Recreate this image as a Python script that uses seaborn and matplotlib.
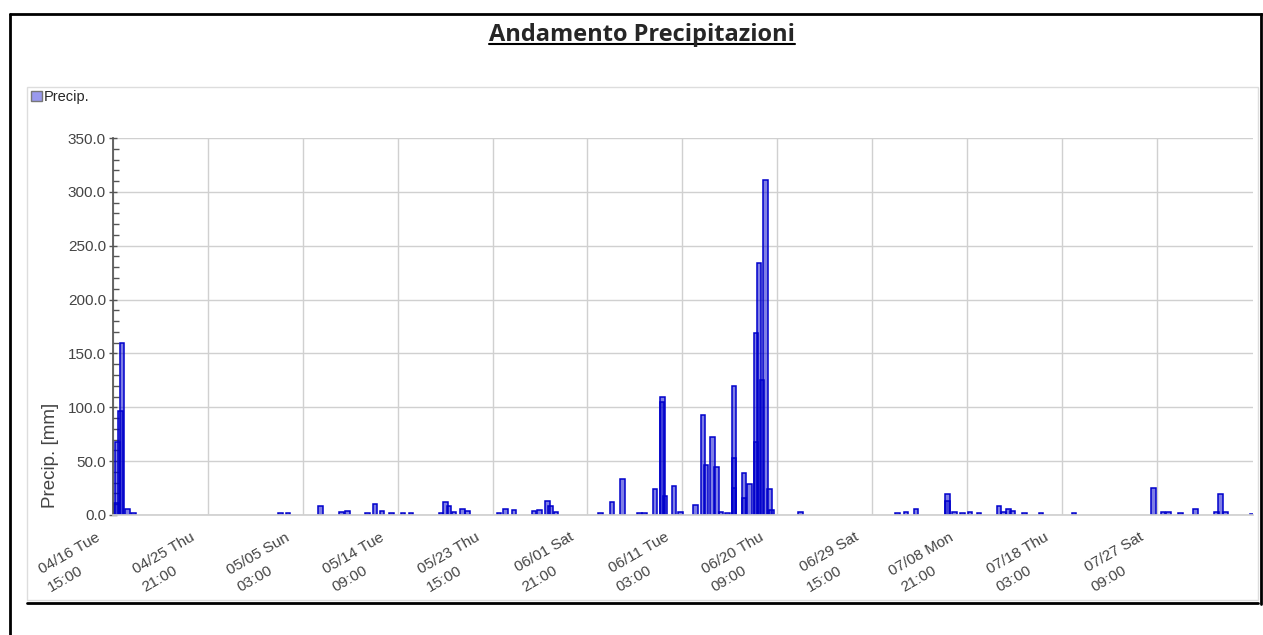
import pandas as pd
import seaborn as sns
import matplotlib.pyplot as plt
from matplotlib import ticker
from matplotlib import transforms
from matplotlib.lines import Line2D
from matplotlib.patches import Patch, Rectangle

# Dati (data/ora della barra, precipitazione in mm)
orari = [
    "2024-04-16 23:00", "2024-04-17 02:00", "2024-04-17 09:00", "2024-04-17 12:00",
    "2024-04-18 01:00", "2024-04-18 15:00",
    "2024-05-02 23:00", "2024-05-03 16:00", "2024-05-06 20:00", "2024-05-08 22:00",
    "2024-05-09 12:00", "2024-05-11 11:00", "2024-05-12 04:00", "2024-05-12 20:00",
    "2024-05-13 19:00", "2024-05-14 21:00", "2024-05-15 16:00", "2024-05-18 14:00",
    "2024-05-19 01:00", "2024-05-19 09:00", "2024-05-19 21:00", "2024-05-20 17:00",
    "2024-05-21 05:00", "2024-05-24 06:00", "2024-05-24 21:00", "2024-05-25 17:00",
    "2024-05-27 16:00", "2024-05-28 05:00", "2024-05-28 23:00", "2024-05-29 07:00",
    "2024-05-29 19:00", "2024-06-03 03:00", "2024-06-04 06:00", "2024-06-05 07:00",
    "2024-06-06 23:00", "2024-06-07 11:00", "2024-06-08 11:00", "2024-06-09 03:00",
    "2024-06-09 04:00", "2024-06-09 10:00", "2024-06-10 07:00", "2024-06-10 22:00",
    "2024-06-12 10:00", "2024-06-13 03:00", "2024-06-13 10:00", "2024-06-14 01:00",
    "2024-06-14 11:00", "2024-06-14 21:00", "2024-06-15 13:00", "2024-06-16 04:00",
    "2024-06-16 04:00", "2024-06-16 04:00", "2024-06-17 03:00", "2024-06-17 03:00",
    "2024-06-17 16:00", "2024-06-18 07:00", "2024-06-18 07:00", "2024-06-18 14:00",
    "2024-06-18 21:00", "2024-06-19 06:00", "2024-06-19 15:00", "2024-06-19 20:00",
    "2024-06-22 16:00", "2024-07-02 02:00", "2024-07-02 22:00", "2024-07-03 22:00",
    "2024-07-07 00:00", "2024-07-07 00:00", "2024-07-07 16:00", "2024-07-08 10:00",
    "2024-07-09 04:00", "2024-07-10 01:00", "2024-07-12 00:00", "2024-07-12 11:00",
    "2024-07-12 22:00", "2024-07-13 08:00", "2024-07-14 12:00", "2024-07-16 02:00",
    "2024-07-19 07:00", "2024-07-27 01:00", "2024-07-27 23:00", "2024-07-28 13:00",
    "2024-07-29 17:00", "2024-07-31 04:00", "2024-08-02 05:00", "2024-08-02 14:00",
    "2024-08-03 02:00", "2024-08-05 16:00",
]
precip = [
    11, 68, 97, 160,
    5.5, 2,
    2, 2, 8.6, 3,
    4, 2, 10, 4,
    2, 2, 2, 2,
    12, 8, 3, 6,
    4, 2, 6, 5,
    4, 5, 13, 8,
    3, 2, 12, 33,
    1.5, 1.5, 24, 105,
    110, 18, 27, 3,
    9, 93, 46, 72,
    45, 3, 2, 120,
    53, 25, 39, 16,
    29, 169, 68, 234,
    125, 311, 24, 5,
    3, 1.5, 2.5, 5.5,
    19.5, 13, 2.5, 2,
    2.5, 1.5, 8.6, 3,
    5.5, 4, 1.5, 1.5,
    1.5, 25, 3, 3,
    1.5, 6, 3, 19.5,
    3, 1,
]
tick_orari = pd.date_range("2024-04-16 15:00", periods=12, freq="222h")

dati = pd.DataFrame({"data": pd.to_datetime(orari), "precip": precip})

W, H = 1263, 635
sns.set_theme(style="whitegrid")
plt.rcParams['font.family'] = ['Liberation Sans', 'DejaVu Sans']

fig = plt.figure(figsize=(W / 100, H / 100), dpi=100)
fig.patch.set_facecolor('white')


def px(x, y):
    return x / W, 1 - y / H


def linea(x0, y0, x1, y1, **kw):
    a, b = px(x0, y0)
    c, d = px(x1, y1)
    fig.add_artist(Line2D([a, c], [b, d], transform=fig.transFigure, **kw))


# cornice esterna
linea(10, 14, 1262, 14, color='black', lw=2)
linea(10, 14, 10, 635, color='black', lw=2)
linea(1261, 14, 1261, 604, color='black', lw=2)
linea(27, 603, 1258, 603, color='black', lw=2)

# riquadro del grafico
x0, y0 = px(27, 600)
fig.add_artist(Rectangle((x0, y0), (1258 - 27) / W, (600 - 87) / H, transform=fig.transFigure,
                         fill=False, edgecolor='#dddddd', lw=1))

# titolo sottolineato
titolo = fig.text(642 / W, 1 - 35 / H, 'Andamento Precipitazioni', ha='center', va='center',
                  fontsize=17, fontweight='bold', family=['Open Sans', 'DejaVu Sans'])

ax = fig.add_axes([113 / W, 1 - 515 / H, 1140 / W, 377 / H])
ax.set_facecolor('white')
ax.bar(dati['data'], dati['precip'], width=0.45, color='#0000cc', alpha=0.5, edgecolor='none')
ax.bar(dati['data'], dati['precip'], width=0.45, fill=False, edgecolor='#0000cc', lw=1.1)

ax.set_xlim(pd.Timestamp("2024-04-16 15:00"), pd.Timestamp("2024-08-05 18:00"))
ax.set_ylim(0, 350)
ax.yaxis.set_major_locator(ticker.MultipleLocator(50))
ax.yaxis.set_minor_locator(ticker.AutoMinorLocator(5))
ax.yaxis.set_major_formatter(ticker.FormatStrFormatter('%.1f'))
ax.tick_params(axis='y', which='major', direction='inout', length=6, width=1, color='#555555',
               labelsize=11, labelcolor='#444444', pad=2, left=True)
ax.tick_params(axis='y', which='minor', direction='in', length=4, width=1, color='#555555', left=True)
ax.tick_params(axis='x', which='both', length=0, pad=8, bottom=True)

# etichette asse x: riga della data (major) e riga dell'ora (minor) ruotate separatamente
ax.xaxis.remove_overlapping_locs = False
ax.set_xticks(tick_orari)
ax.set_xticks(tick_orari, minor=True)
ax.set_xticklabels([f"{t:%m/%d} {t:%a}" for t in tick_orari], rotation=30,
                   ha='right', rotation_mode='anchor', fontsize=11, color='#444444')
ax.set_xticklabels([f"{t:%H:%M}" for t in tick_orari], minor=True, rotation=30,
                   ha='right', rotation_mode='anchor', fontsize=11, color='#444444')
sposta = transforms.ScaledTranslation(-0.18, -0.04, fig.dpi_scale_trans)
for tk in ax.xaxis.get_major_ticks():
    tk.label1.set_transform(tk.label1.get_transform() + sposta)
sposta2 = transforms.ScaledTranslation(-0.35, -0.37, fig.dpi_scale_trans)
for tk in ax.xaxis.get_minor_ticks():
    tk.label1.set_transform(tk.label1.get_transform() + sposta2)

ax.grid(True, which='major', color='#d0d0d0', lw=1)
ax.grid(False, which='minor')
for s in ['top', 'right']:
    ax.spines[s].set_visible(False)
ax.spines['left'].set_color('#555555')
ax.spines['bottom'].set_color('#d0d0d0')
ax.set_xlabel(None)
ax.set_ylabel('Precip. [mm]', fontsize=13.5, color='#444444')
ax.yaxis.set_label_coords(-0.047, 0.157)

fig.legend(handles=[Patch(facecolor='#9999ee', edgecolor='#777777', label='Precip.')],
           loc='upper left', bbox_to_anchor=px(31, 90), frameon=False, fontsize=10.5,
           handlelength=0.75, handleheight=0.75, handletextpad=0.15, borderaxespad=0, borderpad=0)

fig.canvas.draw()
bb = titolo.get_window_extent(fig.canvas.get_renderer()).transformed(fig.transFigure.inverted())
fig.add_artist(Line2D([bb.x0, bb.x1], [bb.y0 + 0.004, bb.y0 + 0.004], transform=fig.transFigure,
                      color='black', lw=1.5))

fig.savefig('out.png', dpi=100)
